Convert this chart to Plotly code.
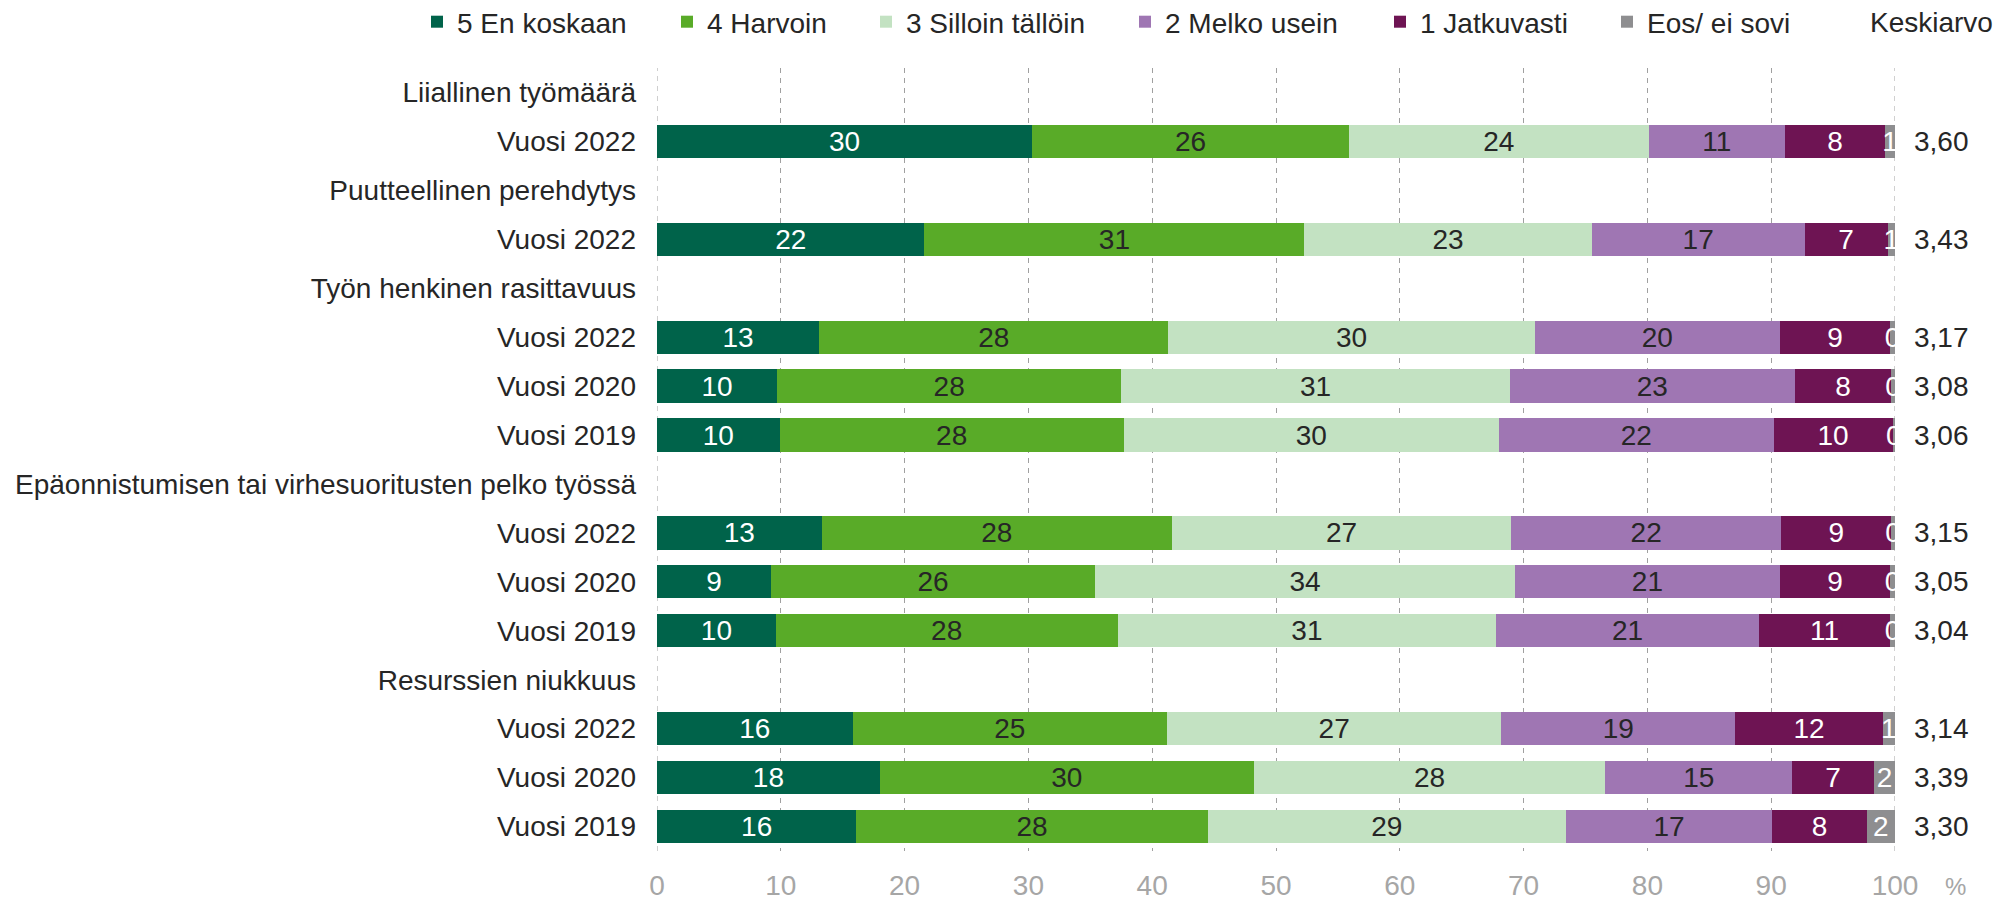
import plotly.graph_objects as go

# Question groups and the survey years shown under each
groups = [
    "Liiallinen työmäärä",
    "Puutteellinen perehdytys",
    "Työn henkinen rasittavuus",
    "Epäonnistumisen tai virhesuoritusten pelko työssä",
    "Resurssien niukkuus",
]
group_years = [
    ["Vuosi 2022"],
    ["Vuosi 2022"],
    ["Vuosi 2022", "Vuosi 2020", "Vuosi 2019"],
    ["Vuosi 2022", "Vuosi 2020", "Vuosi 2019"],
    ["Vuosi 2022", "Vuosi 2020", "Vuosi 2019"],
]

# Response shares (%) per bar, in the order the bars appear
en_koskaan = [30.3, 21.6, 13.1, 9.7, 9.9, 13.3, 9.2, 9.6, 15.8, 18.0, 16.1]
harvoin = [25.6, 30.7, 28.2, 27.8, 27.8, 28.3, 26.2, 27.6, 25.4, 30.2, 28.4]
silloin_tallain = [24.2, 23.2, 29.6, 31.4, 30.3, 27.4, 33.9, 30.6, 27.0, 28.4, 28.9]
melko_usein = [11.0, 17.2, 19.8, 23.0, 22.2, 21.8, 21.4, 21.2, 18.9, 15.1, 16.7]
jatkuvasti = [8.1, 6.7, 8.9, 7.8, 9.6, 8.9, 8.9, 10.6, 11.9, 6.6, 7.6]
eos = [0.8, 0.6, 0.4, 0.3, 0.2, 0.3, 0.4, 0.4, 1.0, 1.7, 2.3]

keskiarvo = ["3,60", "3,43", "3,17", "3,08", "3,06", "3,15", "3,05", "3,04", "3,14", "3,39", "3,30"]

x_ticks = [0, 10, 20, 30, 40, 50, 60, 70, 80, 90, 100]

series = [
    ("5 En koskaan", en_koskaan, "#00634A", "white"),
    ("4 Harvoin", harvoin, "#59AB28", "#262626"),
    ("3 Silloin tällöin", silloin_tallain, "#C3E2C2", "#262626"),
    ("2 Melko usein", melko_usein, "#9F76B3", "#262626"),
    ("1 Jatkuvasti", jatkuvasti, "#6E1453", "white"),
    ("Eos/ ei sovi", eos, "#8E8E90", "white"),
]

# Left edge (px) of each legend entry along the top row
legend_left_px = [417, 667, 866, 1125, 1380, 1607]

# Row layout: a title row for each group followed by its year rows
tickvals, ticktext, bar_rows = [], [], []
row = 0
for g, yrs in zip(groups, group_years):
    tickvals.append(row)
    ticktext.append(g)
    row += 1
    for yr in yrs:
        tickvals.append(row)
        ticktext.append(yr)
        bar_rows.append(row)
        row += 1
n_rows = row

W, H = 2005, 900
ML, MR, MT, MB = 657, 110, 68, 49
FONT = "Liberation Sans, Arial, sans-serif"
DARK = "#262626"
GREY = "#A6A6A6"
GRID = "#A0A0A0"
FS = 28

fig = go.Figure()
legend_layout = {}
for i, (name, vals, color, tcolor) in enumerate(series):
    lid = f"legend{i + 2}"
    fig.add_trace(go.Bar(
        name=name,
        x=vals,
        y=bar_rows,
        orientation="h",
        legend=lid,
        showlegend=True,
        marker=dict(color=color, line=dict(width=0)),
        texttemplate="%{x:.0f}",
        textposition="inside",
        insidetextanchor="middle",
        constraintext="none",
        textangle=0,
        insidetextfont=dict(family=FONT, size=FS, color=tcolor),
        cliponaxis=True,
        hoverinfo="skip",
    ))
    legend_layout[lid] = dict(
        orientation="h",
        xref="container", yref="container",
        x=legend_left_px[i] / W, y=1 - 22 / H,
        xanchor="left", yanchor="middle",
        font=dict(family=FONT, size=FS, color=DARK),
        bgcolor="rgba(0,0,0,0)",
        itemclick=False,
        itemdoubleclick=False,
    )

# Mean values to the right of each bar
for r, m in zip(bar_rows, keskiarvo):
    fig.add_annotation(
        x=100, y=r, xref="x", yref="y", text=m, showarrow=False,
        xanchor="left", yanchor="middle", xshift=17,
        font=dict(family=FONT, size=FS, color=DARK),
    )

fig.add_annotation(
    x=(1868 - ML) / (W - ML - MR), y=1 + (MT - 22) / (H - MT - MB),
    xref="paper", yref="paper", text="Keskiarvo", showarrow=False,
    xanchor="left", yanchor="middle",
    font=dict(family=FONT, size=FS, color=DARK),
)

fig.add_annotation(
    x=100, y=0, xref="x", yref="paper", text="%", showarrow=False,
    xanchor="left", yanchor="top", xshift=48, yshift=-20,
    font=dict(family=FONT, size=24, color=GREY),
)

# Dashed grid lines on the axis ends (0 and 100)
for xv in (0, 100):
    fig.add_shape(
        type="line", xref="x", yref="paper", x0=xv, x1=xv, y0=0, y1=1,
        line=dict(color=GRID, width=1, dash="5px,5px"), layer="below",
    )

fig.update_layout(
    width=W,
    height=H,
    margin=dict(l=ML, r=MR, t=MT, b=MB),
    paper_bgcolor="white",
    plot_bgcolor="white",
    barmode="stack",
    bargap=0.32,
    showlegend=True,
    font=dict(family=FONT, size=FS, color=DARK),
    xaxis=dict(
        range=[0, 100],
        tickvals=x_ticks,
        ticktext=[str(v) for v in x_ticks],
        showgrid=True,
        gridcolor=GRID,
        gridwidth=1,
        griddash="5px,5px",
        zeroline=False,
        showline=False,
        ticks="",
        ticklabelstandoff=15,
        automargin=False,
        tickfont=dict(family=FONT, size=FS, color=GREY),
        fixedrange=True,
    ),
    yaxis=dict(
        range=[n_rows - 0.5, -0.5],
        tickvals=tickvals,
        ticktext=ticktext,
        showgrid=False,
        zeroline=False,
        showline=False,
        ticks="",
        ticklabelstandoff=20,
        automargin=False,
        tickfont=dict(family=FONT, size=FS, color=DARK),
        fixedrange=True,
    ),
    **legend_layout,
)

fig.write_html("out.html")
